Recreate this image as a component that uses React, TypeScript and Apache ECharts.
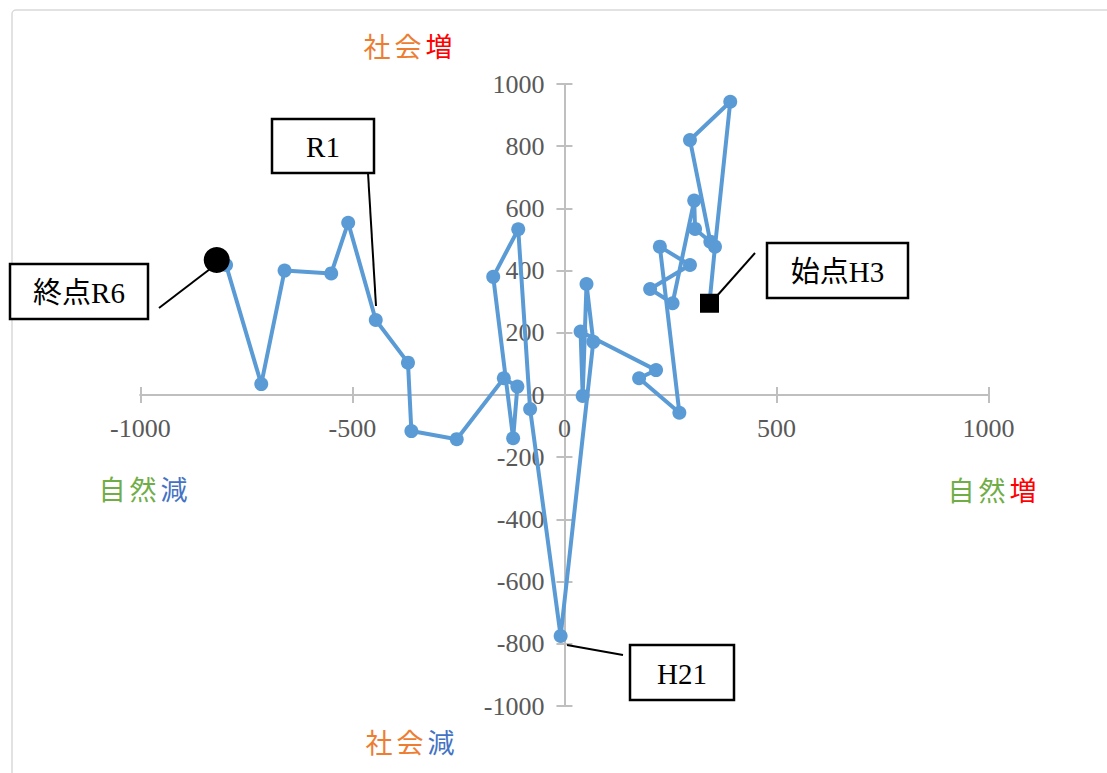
import React, { useEffect, useRef } from "react";
import * as echarts from "echarts";

// 年度ラベル（H3 → R6）
const years = [
  "H3", "H4", "H5", "H6", "H7", "H8", "H9", "H10", "H11", "H12", "H13",
  "H14", "H15", "H16", "H17", "H18", "H19", "H20", "H21", "H22", "H23",
  "H24", "H25", "H26", "H27", "H28", "H29", "H30",
  "R1", "R2", "R3", "R4", "R5", "R6",
];
// 自然増減（x）
const naturalChange = [
  342, 355, 391, 296, 344, 308, 306, 255, 202, 296, 225,
  271, 176, 216, 38, 43, 52, 68, -9, -81, -109,
  -168, -121, -111, -143, -254, -361, -369,
  -445, -510, -550, -660, -715, -798,
];
// 社会増減（y）
const socialChange = [
  295, 477, 943, 820, 493, 534, 625, 295, 341, 418, 477,
  -57, 54, 80, 204, -3, 357, 171, -775, -45, 533,
  380, -139, 27, 54, -142, -116, 104,
  241, 554, 391, 400, 35, 418,
];
const endMarker = [-820, 434];

const xTicks = { min: -1000, max: 1000, interval: 500 };
const yTicks = { min: -1000, max: 1000, interval: 200 };

const AXIS_COLOR = "#bfbfbf";
const LABEL_COLOR = "#595959";
const SERIF = "'Liberation Serif', 'Noto Sans CJK JP', serif";
const CJK = "'Noto Sans CJK JP', sans-serif";
const ORANGE = "#ED7D31";
const RED = "#FF0000";
const GREEN = "#70AD47";
const BLUE = "#4472C4";

const GRID = { left: 140.4, right: 118.5, top: 84, bottom: 67 };
const W = 1107;
const H = 773;

function quadLabel(x: number, y: number, chars: [string, string][]) {
  const rich: Record<string, any> = {};
  const parts: string[] = [];
  chars.forEach(([ch, color], i) => {
    rich["c" + i] = {
      fill: color,
      fontSize: 27,
      fontFamily: CJK,
      padding: [0, 2],
    };
    parts.push(`{c${i}|${ch}}`);
  });
  return {
    type: "text",
    x,
    y,
    style: {
      text: parts.join(""),
      rich,
      align: "center",
      verticalAlign: "middle",
    },
    z: 10,
  };
}

function callout(
  x: number, y: number, w: number, h: number, text: string,
  line: [number, number, number, number]
) {
  return [
    {
      type: "line",
      shape: { x1: line[0], y1: line[1], x2: line[2], y2: line[3] },
      style: { stroke: "#000", lineWidth: 2 },
      z: 20,
    },
    {
      type: "rect",
      shape: { x, y, width: w, height: h },
      style: { fill: "#fff", stroke: "#000", lineWidth: 2.5 },
      z: 21,
    },
    {
      type: "text",
      x: x + w / 2,
      y: y + h / 2 + 1,
      style: {
        text,
        fontSize: 29,
        fontFamily: SERIF,
        fill: "#000",
        align: "center",
        verticalAlign: "middle",
      },
      z: 22,
    },
  ];
}

export default function App() {
  const ref = useRef<HTMLDivElement>(null);

  useEffect(() => {
    document.body.style.margin = "0";
    if (!ref.current) return;
    const chart = echarts.init(ref.current, undefined, { renderer: "svg" });

    const points = naturalChange.map((x, i) => ({
      value: [x, socialChange[i]],
      name: years[i],
    }));

    const gridW = W - GRID.left - GRID.right;
    const gridH = H - GRID.top - GRID.bottom;
    // distance from grid edges to the zero lines
    const yZeroFromBottom = (gridH * (0 - yTicks.min)) / (yTicks.max - yTicks.min);
    const yZeroFromTop = gridH - yZeroFromBottom;
    const xZeroFromLeft = (gridW * (0 - xTicks.min)) / (xTicks.max - xTicks.min);
    const xZeroFromRight = gridW - xZeroFromLeft;

    const lineStyle = { color: AXIS_COLOR, width: 2 };
    const baseX = {
      type: "value",
      min: xTicks.min,
      max: xTicks.max,
      interval: xTicks.interval,
      splitLine: { show: false },
      axisLine: { show: true, onZero: false, lineStyle },
      axisTick: { show: true, length: 8, lineStyle },
    };
    const baseY = {
      type: "value",
      min: yTicks.min,
      max: yTicks.max,
      interval: yTicks.interval,
      splitLine: { show: false },
      axisLine: { show: true, onZero: false, lineStyle },
      axisTick: { show: true, length: 8, lineStyle },
    };
    const labelStyle = {
      color: LABEL_COLOR,
      fontSize: 26,
      fontFamily: SERIF,
      margin: 20,
      formatter: (v: number) => String(v),
    };

    chart.setOption({
      animation: false,
      backgroundColor: "#fff",
      grid: {
        left: GRID.left,
        right: GRID.right,
        top: GRID.top,
        bottom: GRID.bottom,
        containLabel: false,
        outerBoundsMode: "none",
      },
      xAxis: [
        { ...baseX, position: "bottom", offset: -yZeroFromBottom, axisLabel: labelStyle },
        { ...baseX, position: "top", offset: -yZeroFromTop, axisLabel: { show: false } },
      ],
      yAxis: [
        { ...baseY, position: "left", offset: -xZeroFromLeft, axisLabel: labelStyle },
        { ...baseY, position: "right", offset: -xZeroFromRight, axisLabel: { show: false } },
      ],
      series: [
        {
          type: "line",
          xAxisIndex: 0,
          yAxisIndex: 0,
          data: points,
          symbol: "circle",
          symbolSize: 14,
          showSymbol: true,
          lineStyle: { color: "#5B9BD5", width: 4 },
          itemStyle: { color: "#5B9BD5", opacity: 1 },
          z: 3,
        },
        {
          type: "scatter",
          xAxisIndex: 0,
          yAxisIndex: 0,
          data: [[naturalChange[0], socialChange[0]]],
          symbol: "rect",
          symbolSize: 19,
          itemStyle: { color: "#000", opacity: 1 },
          z: 5,
        },
        {
          type: "scatter",
          xAxisIndex: 0,
          yAxisIndex: 0,
          data: [endMarker],
          symbol: "circle",
          symbolSize: 26,
          itemStyle: { color: "#000", opacity: 1 },
          z: 5,
        },
      ],
      graphic: [
        {
          type: "rect",
          shape: { x: 12, y: 10, width: 1200, height: 900, r: 4 },
          style: { fill: "none", stroke: "#d9d9d9", lineWidth: 1.5 },
          z: 0,
        },
        quadLabel(408, 45, [["社", ORANGE], ["会", ORANGE], ["増", RED]]),
        quadLabel(143, 488, [["自", GREEN], ["然", GREEN], ["減", BLUE]]),
        quadLabel(992, 489, [["自", GREEN], ["然", GREEN], ["増", RED]]),
        quadLabel(410, 741, [["社", ORANGE], ["会", ORANGE], ["減", BLUE]]),
        ...callout(272, 119, 102, 54, "R1", [368, 173, 376, 306]),
        ...callout(10, 264, 138, 55, "終点R6", [159, 308, 210, 269]),
        ...callout(767, 243, 141, 55, "始点H3", [755, 253, 716, 297]),
        ...callout(630, 645, 104, 55, "H21", [567, 645, 623, 655]),
      ],
    });

    return () => chart.dispose();
  }, []);

  return <div ref={ref} style={{ width: W, height: H }} />;
}
